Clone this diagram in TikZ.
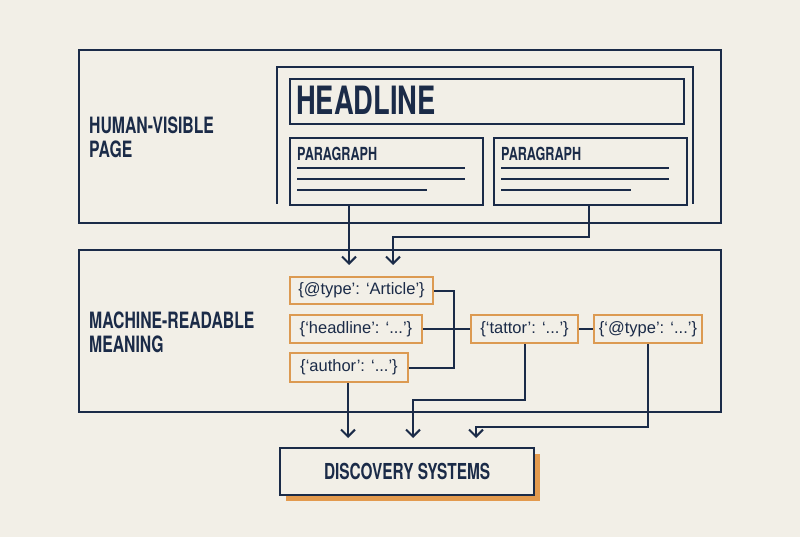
\documentclass[tikz,border=0pt]{standalone}
\usepackage{fontspec}
\setmainfont{Liberation Sans}
\newfontfamily\cond[FakeStretch=0.70]{TeX Gyre Heros}
\usetikzlibrary{arrows.meta,calc,shadows}
\definecolor{bg}{HTML}{F2EFE7}
\definecolor{navy}{HTML}{1B2B48}
\definecolor{orng}{HTML}{DC9A52}
\definecolor{shad}{HTML}{E39A4E}
\tikzset{
  frame/.style={draw=navy, line width=2pt},
  pbox/.style={draw=navy, line width=2.2pt, inner sep=0pt, anchor=north west},
  jbox/.style={draw=orng, line width=2pt, fill=bg, inner sep=0pt, anchor=north west,
               font=\fontsize{16.5}{18}\selectfont, text=navy},
  lbl/.style={text=navy, font=\cond\bfseries\fontsize{22.5}{24}\selectfont, align=left, anchor=west, inner sep=0pt},
  ptitle/.style={text=navy, font=\cond\bfseries\fontsize{18}{20}\selectfont, anchor=west, inner sep=0pt},
  tline/.style={draw=navy, line width=2pt},
  conn/.style={draw=navy, line width=2pt},
  arr/.style={conn, -{Straight Barb[length=7pt,width=14pt]}}
}
\begin{document}
\begin{tikzpicture}[x=1pt,y=-1pt]
\fill[bg] (0,0) rectangle (800,537);
\useasboundingbox (0,0) rectangle (800,537);

% outer frames
\node[pbox, line width=2pt, minimum width=642pt, minimum height=173pt] (human) at (78,49) {};
\node[pbox, line width=2pt, minimum width=642pt, minimum height=162pt] (machine) at (78,249) {};
\node[lbl] (hlabel) at (89,137) {HUMAN-VISIBLE\\PAGE};
\node[lbl] (mlabel) at (89,332) {MACHINE-READABLE\\MEANING};

% inner page frame (open at bottom)
\draw[navy, line width=2.4pt] (277,204) -- (277,67) -- (693,67) -- (693,204);

% headline
\node[pbox, minimum width=394pt, minimum height=45pt] (headline) at (289,78) {};
\node[text=navy, font=\cond\bfseries\fontsize{39}{40}\selectfont, anchor=west, inner sep=0pt] (htext) at (296,100) {HEADLINE};

% paragraphs
\node[pbox, minimum width=193pt, minimum height=67pt] (para1) at (289,137) {};
\node[pbox, minimum width=193pt, minimum height=67pt] (para2) at (493,137) {};
\node[ptitle] (p1t) at (297,154) {PARAGRAPH};
\node[ptitle] (p2t) at (501,154) {PARAGRAPH};
\draw[tline] (297,168) -- (465,168);
\draw[tline] (297,179) -- (465,179);
\draw[tline] (297,190) -- (427,190);
\draw[tline] (501,168) -- (669,168);
\draw[tline] (501,179) -- (669,179);
\draw[tline] (501,190) -- (631,190);

% json boxes
\node[jbox, minimum width=143pt, minimum height=27pt] (article) at (289,276) {\{@type’: ‘Article’\}};
\node[jbox, minimum width=132pt, minimum height=28pt] (hkey) at (289,314) {\{‘headline’: ‘...’\}};
\node[jbox, minimum width=118pt, minimum height=29pt] (author) at (289,352) {\{‘author’: ‘...’\}};
\node[jbox, minimum width=107pt, minimum height=28pt] (tattor) at (470,314) {\{‘tattor’: ‘...’\}};
\node[jbox, minimum width=108pt, minimum height=28pt] (typek) at (593,314) {\{‘@type’: ‘...’\}};

% discovery
\node[pbox, fill=bg, minimum width=254pt, minimum height=47pt,
      drop shadow={shadow xshift=6pt, shadow yshift=-6pt, fill=shad, opacity=1},
      text=navy, font=\cond\bfseries\fontsize{22}{24}\selectfont] (disc) at (279,447) {DISCOVERY SYSTEMS};

% arrow tip coordinates
\coordinate (t1) at (349,265);
\coordinate (t2) at (393,265);
\coordinate (d1) at (348,438);
\coordinate (d2) at (413,438);
\coordinate (d3) at (476,438);

% human -> machine
\draw[arr] (para1.south -| t1) -- (t1);
\draw[arr] ($(para2.south west)+(96,0)$) -- ++(0,31) -| (t2);

% json links
\draw[conn] (article.east) -- ++(20,0) |- (author.east);
\draw[conn] (hkey.east) -- (tattor.west);
\draw[conn] (tattor.east) -- (typek.west);

% machine -> discovery
\draw[arr] (author.south -| d1) -- (d1);
\draw[arr] (tattor.south) -- ++(0,56) -| (d2);
\draw[arr] (typek.south) -- ++(0,83) -| (d3);
\end{tikzpicture}
\end{document}
